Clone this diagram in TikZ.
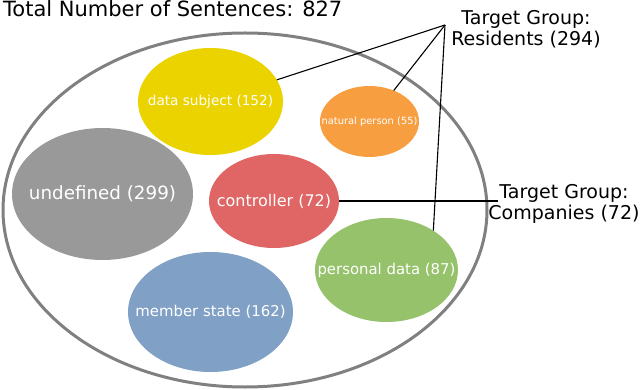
\documentclass[tikz,border=0pt]{standalone}
\usepackage{fontspec}
\setmainfont{DejaVu Sans}
\usetikzlibrary{shapes.geometric}
\definecolor{cyellow}{RGB}{235,211,0}
\definecolor{corange}{RGB}{247,158,64}
\definecolor{cgray}{RGB}{153,153,153}
\definecolor{cred}{RGB}{224,101,101}
\definecolor{cgreen}{RGB}{149,194,106}
\definecolor{cblue}{RGB}{128,160,198}
\definecolor{couter}{RGB}{128,128,128}
\tikzset{
  blob/.style={ellipse, draw=none, inner sep=0pt, outer sep=0pt},
  blobtext/.style={text=white, inner sep=0pt},
  conn/.style={draw=black, line width=1.1pt},
  grouplabel/.style={align=center, inner sep=0pt, font=\fontsize{19}{21}\selectfont}
}
\begin{document}
\begin{tikzpicture}[x=1pt,y=-1pt]
\useasboundingbox (0,0) rectangle (640,390);
% outer ellipse
\node[ellipse, draw=couter, line width=3pt, minimum width=484pt, minimum height=354pt, inner sep=0pt] (outer) at (245,210) {};
% title
\node[anchor=base west, inner sep=0pt, font=\fontsize{21}{24}\selectfont] (title) at (3,17) {Total Number of Sentences: 827};
% category ellipses
\node[blob, fill=cyellow, minimum width=145pt, minimum height=107pt] (ds) at (210.5,101.5) {};
\node[blobtext, font=\fontsize{13.6}{16}\selectfont] (dst) at (ds.center) {data subject (152)};
\node[blob, fill=corange, minimum width=99pt, minimum height=71pt] (np) at (369.5,121.5) {};
\node[blobtext, font=\fontsize{9.9}{12}\selectfont] (npt) at (np.center) {natural person (55)};
\node[blob, fill=cgray, minimum width=181pt, minimum height=132pt] (ud) at (102.5,194) {};
\node[blobtext, font=\fontsize{18.3}{22}\selectfont] (udt) at (ud.center) {undefined (299)};
\node[blob, fill=cred, minimum width=130pt, minimum height=94pt] (ctl) at (274,201) {};
\node[blobtext, font=\fontsize{16}{19}\selectfont] (ctlt) at (ctl.center) {controller (72)};
\node[blob, fill=cgreen, minimum width=143pt, minimum height=104pt] (pd) at (386.5,270) {};
\node[blobtext, font=\fontsize{14.9}{18}\selectfont] (pdt) at (pd.center) {personal data (87)};
\node[blob, fill=cblue, minimum width=165pt, minimum height=120pt] (ms) at (210.5,312) {};
\node[blobtext, font=\fontsize{14.9}{18}\selectfont] (mst) at (ms.center) {member state (162)};
% group labels
\node[grouplabel] (res) at (526,29) {Target Group:\\Residents (294)};
\node[grouplabel] (comp) at (564,204) {Target Group:\\Companies (72)};
\coordinate (apex) at (445,25);
\coordinate (cend) at (498,201);
% connectors
\draw[conn] (apex) -- (ds);
\draw[conn] (apex) -- (np);
\draw[conn] (apex) -- (pd.40);
\draw[conn] (ctl.east) -- (cend);
\end{tikzpicture}
\end{document}
